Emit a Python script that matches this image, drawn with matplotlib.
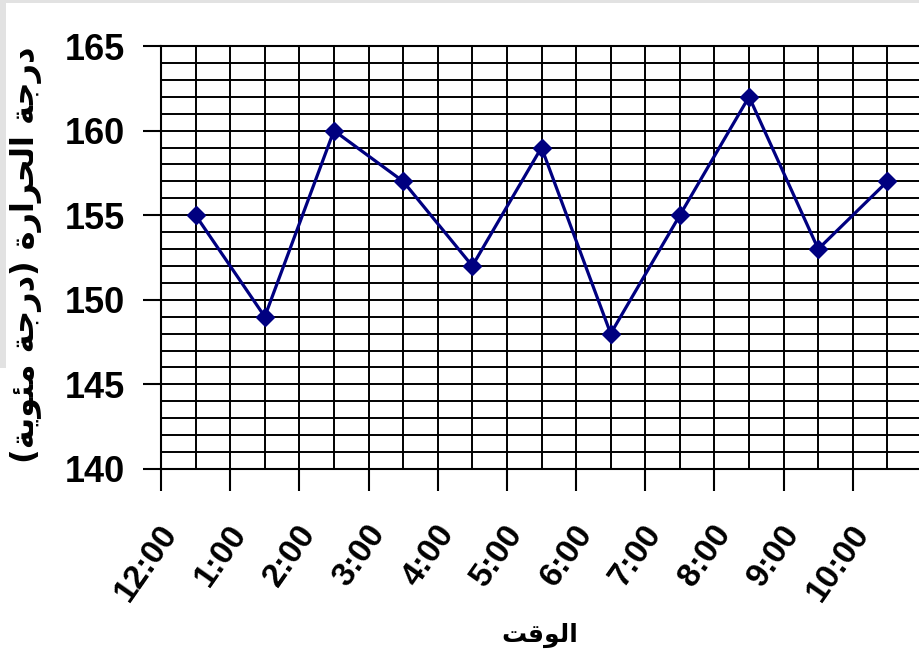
import numpy as np
import matplotlib.pyplot as plt
from matplotlib.ticker import MultipleLocator, FixedLocator
from matplotlib.patches import Rectangle
import matplotlib.transforms as mtrans

# data
times = ["12:00", "1:00", "2:00", "3:00", "4:00", "5:00",
         "6:00", "7:00", "8:00", "9:00", "10:00"]
temps = [155, 149, 160, 157, 152, 159, 148, 155, 162, 153, 157]

ylabel_txt = "درجة الحرارة (درجة مئوية)"
xlabel_txt = "الوقت"

# matplotlib has no arabic shaping -> map to presentation forms by hand
DUAL = {'ج': 0xFE9D, 'ح': 0xFEA1, 'ل': 0xFEDD, 'ئ': 0xFE89,
        'م': 0xFEE1, 'ي': 0xFEF1, 'ق': 0xFED5, 'ت': 0xFE95}
RIGHT = {'ا': 0xFE8D, 'د': 0xFEA9, 'ر': 0xFEAD, 'ة': 0xFE93, 'و': 0xFEED}

def shape(s):
    out = []
    for i, c in enumerate(s):
        if c not in DUAL and c not in RIGHT:
            out.append(c)
            continue
        prev = s[i-1] if i > 0 else ''
        nxt = s[i+1] if i + 1 < len(s) else ''
        pj = prev in DUAL
        nj = c in DUAL and (nxt in DUAL or nxt in RIGHT)
        base = DUAL.get(c, RIGHT.get(c))
        off = 3 if (pj and nj) else 1 if pj else 2 if nj else 0
        out.append(chr(base + off))
    vis = ''.join(out)[::-1]
    return vis.translate(str.maketrans('()', ')('))

num_font = ['Liberation Sans', 'DejaVu Sans']

fig = plt.figure(figsize=(9.19, 6.62), dpi=100)
# bits of the grey slide background at the edges
fig.patches.append(Rectangle((0, 1 - 368/662), 6/919, 368/662,
                             transform=fig.transFigure, color='#e2e2e2', lw=0))
fig.patches.append(Rectangle((0, 1 - 3/662), 1, 3/662,
                             transform=fig.transFigure, color='#e2e2e2', lw=0))

# plot area runs a bit past the right edge, like the original screenshot
ax = fig.add_axes([161/919, 193/662, 761/919, 423/662])

x = np.arange(len(times)) + 0.5
ax.plot(x, temps, color='#000080', lw=2.3, marker='D', ms=9,
        markerfacecolor='#000080', markeredgecolor='#000080', zorder=3)

ax.set_xlim(0, len(times))
ax.set_ylim(140, 165)

# y: labels every 5, grid every 1
ax.yaxis.set_major_locator(MultipleLocator(5))
ax.yaxis.set_minor_locator(MultipleLocator(1))
ax.tick_params(axis='y', which='major', length=13, width=1.5, pad=13,
               color='black')
ax.tick_params(axis='y', which='minor', length=0)
for lab in ax.get_yticklabels():
    lab.set_family(num_font)
    lab.set_fontsize(26)
    lab.set_fontweight('bold')

# x: ticks at category borders, labels at centres
ax.xaxis.set_major_locator(FixedLocator(np.arange(len(times) + 1)))
ax.xaxis.set_minor_locator(FixedLocator(x))
ax.set_xticklabels([''] * (len(times) + 1))
ax.set_xticklabels(times, minor=True)
ax.tick_params(axis='x', which='major', length=16, width=1.5, color='black')
ax.tick_params(axis='x', which='minor', length=0, pad=36)
off = mtrans.ScaledTranslation(-12/100, 0, fig.dpi_scale_trans)
for lab in ax.get_xticklabels(minor=True):
    lab.set_family(num_font)
    lab.set_fontsize(24)
    lab.set_fontweight('bold')
    lab.set_rotation(55)
    lab.set_ha('right')
    lab.set_va('top')
    lab.set_transform(lab.get_transform() + off)

# dense black grid
ax.grid(True, which='both', axis='y', color='black', lw=1.4)
ax.grid(True, which='both', axis='x', color='black', lw=1.4)
ax.set_axisbelow(True)
for s in ax.spines.values():
    s.set_color('black')
    s.set_linewidth(1.5)

fig.text(26/919, 1 - 255/662, shape(ylabel_txt), rotation=90,
         ha='center', va='center', fontsize=23, fontweight='bold',
         family=['DejaVu Sans'])
fig.text(540/919, 1 - 635/662, shape(xlabel_txt),
         ha='center', va='center', fontsize=18, fontweight='bold',
         family=['DejaVu Sans'])

fig.savefig('out.png', dpi=100)
